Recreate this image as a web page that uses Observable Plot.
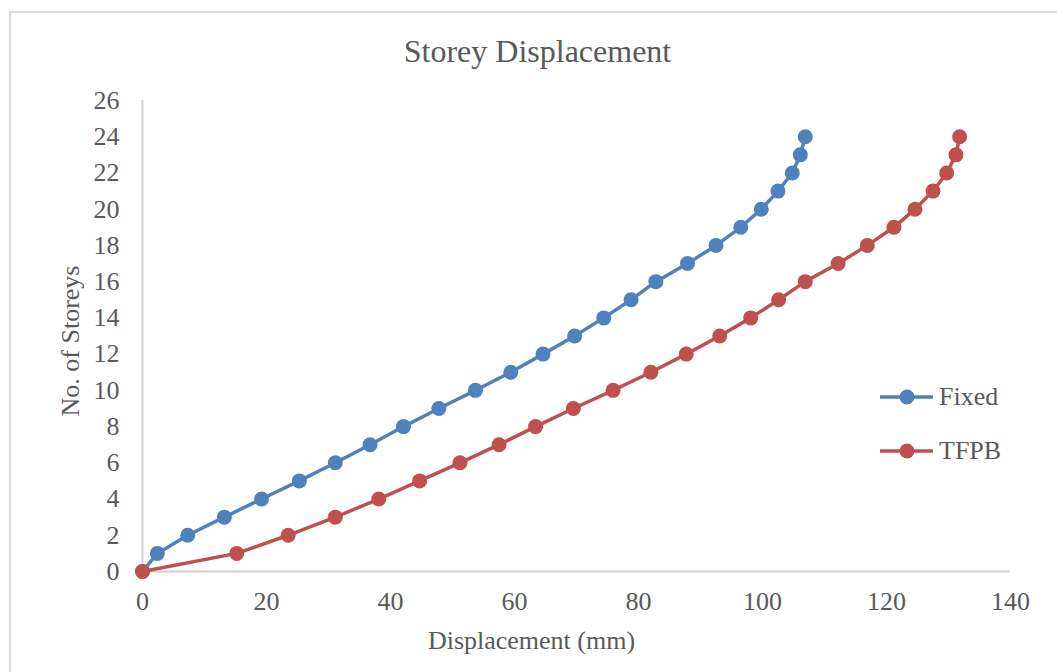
<!DOCTYPE html>
<html>
<head>
<meta charset="utf-8">
<script src="https://cdn.jsdelivr.net/npm/d3@7"></script>
<script src="https://cdn.jsdelivr.net/npm/@observablehq/plot@0.6"></script>
<style>
  html, body { margin: 0; padding: 0; background: #fff; overflow: hidden; }
  #wrap { position: relative; width: 1057px; height: 672px; font-family: "Liberation Serif", "Times New Roman", serif; }
  #border { position: absolute; left: 9px; top: 11px; width: 1100px; height: 720px; border: 2px solid #d9d9d9; box-sizing: border-box; }
  #chart { position: absolute; left: 0; top: 0; }
  .leg { position: absolute; left: 880px; height: 30px; display: flex; align-items: center; color: #595959; font-size: 26px; }
  .leg svg { margin-right: 5px; }
</style>
</head>
<body>
<div id="wrap">
  <div id="border"></div>
  <div id="chart"></div>
</div>
<script>
// Storey levels 0..24
const storeys = d3.range(0, 25);
// Lateral displacement per storey (mm)
const fixedDisp = [0, 2.4, 7.3, 13.2, 19.2, 25.3, 31.1, 36.7, 42.1, 47.8, 53.7, 59.4, 64.6, 69.7, 74.4, 78.8, 82.8, 87.9, 92.5, 96.5, 99.8, 102.5, 104.8, 106.1, 106.9];
const tfpbDisp = [0, 15.2, 23.5, 31.1, 38.1, 44.7, 51.2, 57.5, 63.4, 69.5, 75.9, 82.0, 87.7, 93.1, 98.1, 102.6, 106.9, 112.2, 116.9, 121.2, 124.6, 127.5, 129.7, 131.2, 131.8];
const seriesNames = ["Fixed", "TFPB"];
const seriesColors = ["#4F81BD", "#C0504D"];
const xTicks = [0, 20, 40, 60, 80, 100, 120, 140];
const yTicks = [0, 2, 4, 6, 8, 10, 12, 14, 16, 18, 20, 22, 24, 26];

const rows = [
  ...storeys.map((s, i) => ({series: "Fixed", disp: fixedDisp[i], storey: s})),
  ...storeys.map((s, i) => ({series: "TFPB", disp: tfpbDisp[i], storey: s}))
];

const textColor = "#595959";

const chart = Plot.plot({
  width: 1057,
  height: 672,
  marginLeft: 142,
  marginRight: 47,
  marginTop: 100,
  marginBottom: 101,
  style: {fontFamily: "'Liberation Serif', 'Times New Roman', serif", color: textColor, background: "transparent", overflow: "visible"},
  x: {domain: [0, 140]},
  y: {domain: [0, 26]},
  color: {domain: seriesNames, range: seriesColors},
  marks: [
    Plot.ruleX([0], {stroke: "#d0d0d0", strokeWidth: 2}),
    Plot.ruleY([0], {stroke: "#d0d0d0", strokeWidth: 2}),
    Plot.axisX({ticks: xTicks, tickSize: 0, tickPadding: 20, fontSize: 26, label: null, tickFormat: d => String(d)}),
    Plot.axisY({ticks: yTicks, tickSize: 0, tickPadding: 23, fontSize: 26, label: null, tickFormat: d => String(d)}),
    Plot.line(rows, {x: "disp", y: "storey", z: "series", stroke: "series", strokeWidth: 3.5}),
    Plot.dot(rows, {x: "disp", y: "storey", fill: "series", r: 7.5}),
    Plot.text(["Storey Displacement"], {frameAnchor: "top", lineAnchor: "middle", textAnchor: "middle", dx: -39, dy: -49, fontSize: 32, fill: textColor}),
    Plot.text(["Displacement (mm)"], {frameAnchor: "bottom", lineAnchor: "middle", textAnchor: "middle", dx: -45, dy: 69, fontSize: 26, fill: textColor}),
    Plot.text(["No. of Storeys"], {frameAnchor: "left", lineAnchor: "middle", textAnchor: "middle", dx: -72, dy: 5, rotate: -90, fontSize: 26, fill: textColor})
  ]
});
document.getElementById("chart").appendChild(chart);

// Legend: line-with-marker swatches beside series names
const wrap = document.getElementById("wrap");
const legendY = [397, 451];
seriesNames.forEach((name, i) => {
  const item = document.createElement("div");
  item.className = "leg";
  item.style.top = (legendY[i] - 15) + "px";
  item.innerHTML = `<svg width="54" height="30"><line x1="0" y1="15" x2="53" y2="15" stroke="${seriesColors[i]}" stroke-width="3.5"/><circle cx="27" cy="15" r="7.5" fill="${seriesColors[i]}"/></svg><span>${name}</span>`;
  wrap.appendChild(item);
});
</script>
</body>
</html>
